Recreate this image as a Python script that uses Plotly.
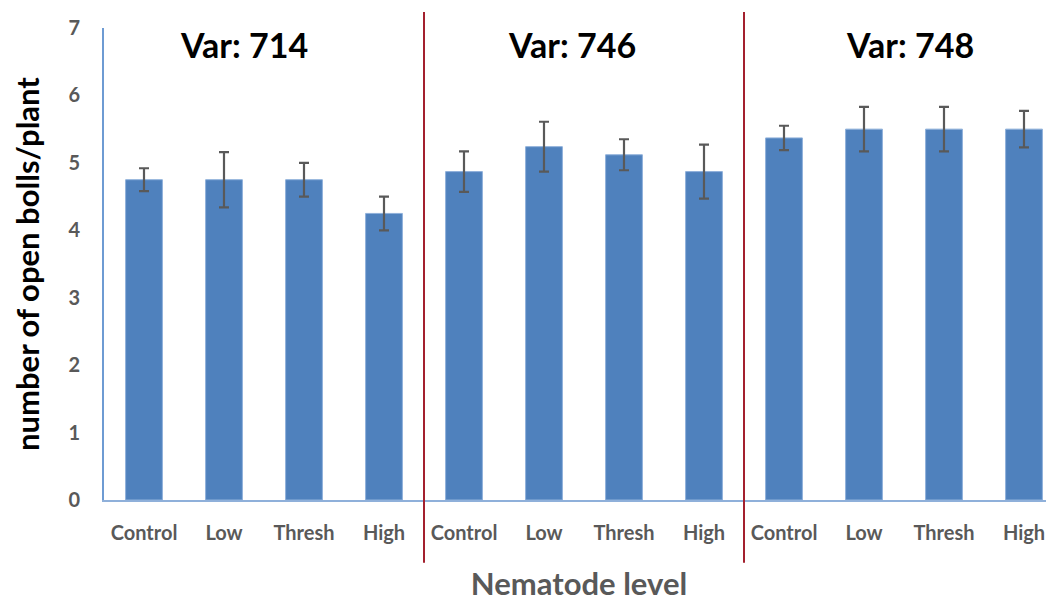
import plotly.graph_objects as go

levels = ["Control", "Low", "Thresh", "High"]
varieties = ["Var: 714", "Var: 746", "Var: 748"]
means_714 = [4.75, 4.75, 4.75, 4.25]
err_714 = [0.17, 0.41, 0.25, 0.25]
means_746 = [4.87, 5.24, 5.12, 4.87]
err_746 = [0.30, 0.37, 0.23, 0.40]
means_748 = [5.37, 5.50, 5.50, 5.50]
err_748 = [0.18, 0.33, 0.33, 0.27]

means = means_714 + means_746 + means_748
errs = err_714 + err_746 + err_748
xs = list(range(len(means)))
ticktext = levels * 3

fig = go.Figure()
fig.add_trace(go.Bar(
    x=xs, y=means, width=0.46,
    marker=dict(color="#4F81BD", line=dict(color="#8FB0DA", width=1)),
    error_y=dict(type="data", array=errs, visible=True, color="#595959", thickness=2.2, width=5),
    showlegend=False,
))

font = "Lato, 'Open Sans', sans-serif"
fig.update_layout(
    width=1046, height=594,
    margin=dict(l=96, r=0, t=20, b=100),
    paper_bgcolor="white", plot_bgcolor="white",
    font=dict(family=font),
    xaxis=dict(
        range=[-0.5, 11.375], tickmode="array", tickvals=xs, ticktext=ticktext,
        tickfont=dict(size=20, color="#595959", family=font, weight="bold"),
        showline=True, linecolor="#8FB0DA", linewidth=2, showgrid=False, zeroline=False,
        ticklabelstandoff=14,
        title=dict(text="Nematode level", font=dict(size=31, color="#595959", family=font, weight="bold"), standoff=36),
    ),
    yaxis=dict(
        range=[0, 7], tickmode="array", tickvals=[0, 1, 2, 3, 4, 5, 6, 7],
        tickfont=dict(size=20, color="#595959", family=font, weight="bold"),
        showline=True, linecolor="#6E9BD3", linewidth=2, showgrid=False, zeroline=False,
        ticklabelstandoff=18,
        title=dict(text="number of open bolls/plant", font=dict(size=31, color="black", family=font, weight="bold"), standoff=20),
    ),
)

title_x = [1.25, 5.35, 9.575]
for tx, name in zip(title_x, varieties):
    fig.add_annotation(x=tx, xref="x", y=(502 - 45) / 474, yref="paper", yanchor="middle", text=name,
                       showarrow=False, font=dict(size=34, color="black", family=font, weight="bold"))

for sx in [3.5, 7.5]:
    fig.add_shape(type="line", x0=sx, x1=sx, xref="x", y0=-0.133, y1=1.034, yref="paper",
                  line=dict(color="#A3202E", width=2))

fig.write_html("out.html")
